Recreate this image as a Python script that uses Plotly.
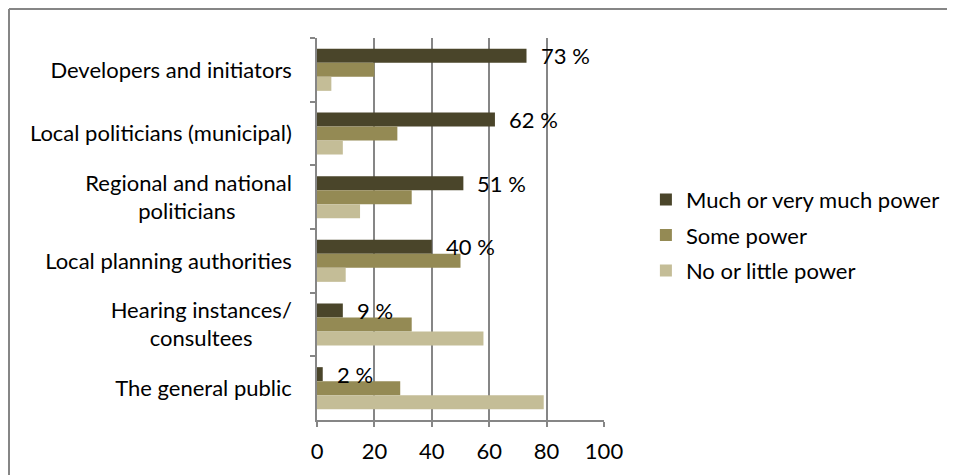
import plotly.graph_objects as go

categories = [
    "Developers and initiators",
    "Local politicians (municipal)",
    "Regional and national<br>politicians" + "\u00a0" * 10,
    "Local planning authorities",
    "Hearing instances/<br>consultees" + "\u00a0" * 7,
    "The general public",
]
much_power = [73, 62, 51, 40, 9, 2]
some_power = [20, 28, 33, 50, 33, 29]
little_power = [5, 9, 15, 10, 58, 79]
series_names = ["Much or very much power", "Some power", "No or little power"]
series_colors = ["#4A452A", "#948A54", "#C4BD97"]
x_ticks = [0, 20, 40, 60, 80, 100]

FONT = "Lato"
FS = 22
# page body has an 8px margin, so the figure is drawn 8px in from the window edge
W, H = 947, 467
ML, MR, MT, MB = 309, 351, 30, 55

fig = go.Figure()
for i, (name, vals, col) in enumerate(zip(series_names, [much_power, some_power, little_power], series_colors)):
    fig.add_trace(go.Bar(
        y=categories, x=vals, orientation="h", name=name,
        marker=dict(color=col, line=dict(width=0)),
        legendgroup=name,
    ))

# data labels for the first series
for c, v in zip(categories, much_power):
    fig.add_annotation(x=v, y=c, text=f"{v} %", showarrow=False,
                       xanchor="left", xshift=12, yshift=14,
                       font=dict(family=FONT, size=FS, color="#000000"))

pw = W - ML - MR
ph = H - MT - MB
# chart frame (only top and left visible)
fx0 = (1 - ML) / pw
fy1 = 1 + (MT - 1) / ph
fy0 = -(MB + 10) / ph
fx1 = 1 + (MR + 10) / pw
fig.add_shape(type="line", xref="paper", yref="paper", x0=fx0, x1=fx1, y0=fy1, y1=fy1,
              line=dict(color="#868686", width=2))
fig.add_shape(type="line", xref="paper", yref="paper", x0=fx0, x1=fx0, y0=fy0, y1=fy1,
              line=dict(color="#868686", width=2))

fig.update_layout(
    width=W, height=H,
    margin=dict(l=ML, r=MR, t=MT, b=MB, autoexpand=False),
    paper_bgcolor="white", plot_bgcolor="white",
    barmode="group", bargap=0.34, bargroupgap=0,
    font=dict(family=FONT, size=FS, color="#000000"),
    showlegend=True,
    legend=dict(x=1.146, y=0.484, xanchor="left", yanchor="middle",
                traceorder="grouped", tracegroupgap=4,
                font=dict(family=FONT, size=FS, color="#000000"),
                itemwidth=30),
    xaxis=dict(range=[0, 100], tickvals=x_ticks, showgrid=True, gridcolor="#868686", gridwidth=1.5,
               showline=True, linecolor="#868686", linewidth=1.5,
               ticks="outside", ticklen=5, tickcolor="#868686", tickwidth=1.5,
               zeroline=False, fixedrange=True, ticklabelstandoff=6),
    yaxis=dict(autorange="reversed", showline=True, linecolor="#868686", linewidth=1.5,
               ticks="outside", ticklen=5, tickcolor="#868686", tickwidth=1.5,
               tickson="boundaries", showgrid=False, ticklabelstandoff=19),
)

fig.write_html("out.html")
